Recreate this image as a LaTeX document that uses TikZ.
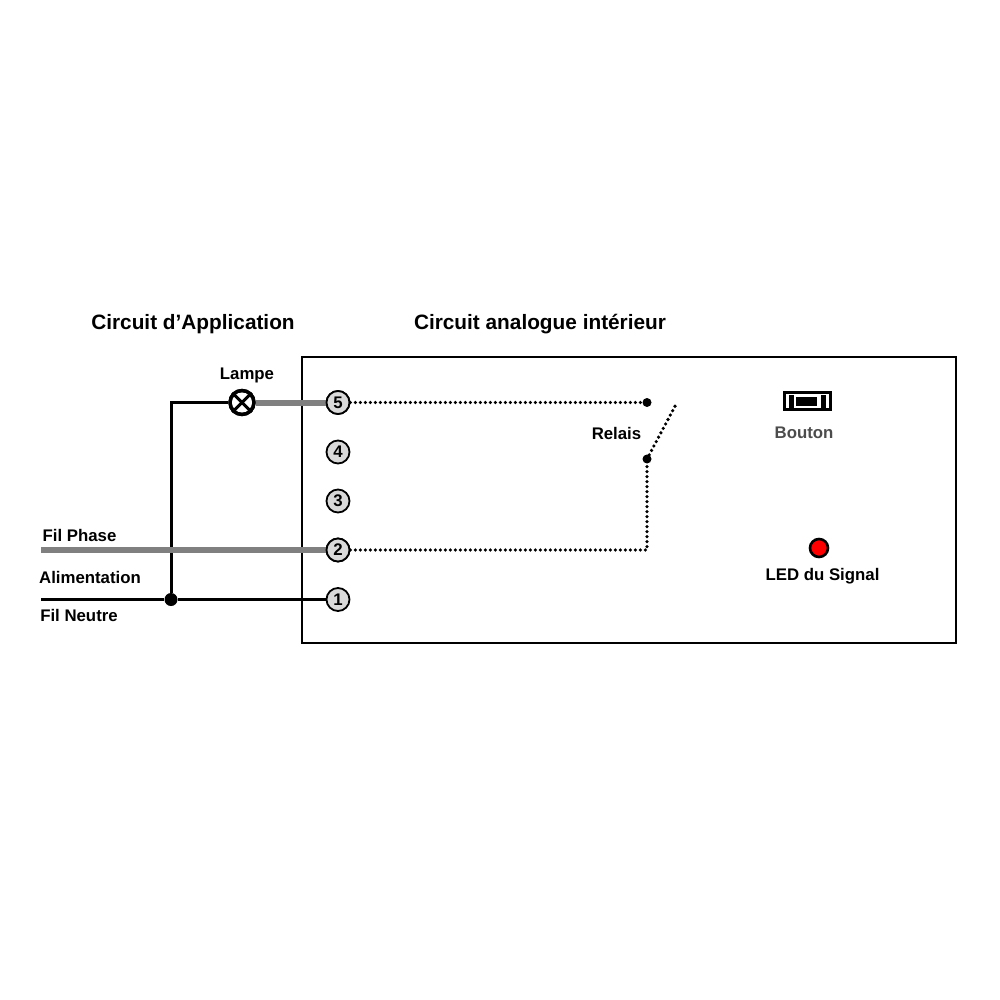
\documentclass[tikz,border=0pt]{standalone}
\usepackage{fontspec}
\setmainfont{Liberation Sans}
\tikzset{
	titre/.style={font=\fontsize{20.8}{24}\selectfont\bfseries},
	etiquette/.style={font=\fontsize{16.8}{19}\selectfont\bfseries},
	borne/.style={circle,draw=black,line width=1.8pt,fill=black!15,minimum size=23pt,inner sep=0pt,font=\fontsize{16.8}{19}\selectfont\bfseries},
	point/.style={circle,fill=black,inner sep=0pt},
	fil/.style={line width=3pt,black},
	phase/.style={line width=6pt,black!50},
	pointille/.style={line width=3.6pt,black,line cap=round,dash pattern=on 0pt off 5pt}
}
\begin{document}
\begin{tikzpicture}[x=1pt,y=-1pt]
	\useasboundingbox (0,0) rectangle (1000,1000);

	% Titles
	\node[titre] (titreapp) at (193,324) {Circuit d’Application};
	\node[titre] (titreana) at (540,324) {Circuit analogue intérieur};

	% Box
	\node[draw=black,line width=2.6pt,minimum width=654pt,minimum height=286pt,inner sep=0pt] (boitier) at (629,500) {};

	% Terminals
	\node[borne] (b5) at (338,402.5) {5};
	\node[borne] (b4) at (338,452) {4};
	\node[borne] (b3) at (338,501) {3};
	\node[borne] (b2) at (338,550) {2};
	\node[borne] (b1) at (338,599.5) {1};

	% Lamp
	\node[circle,draw=black,line width=3.4pt,fill=white,minimum size=24pt,inner sep=0pt] (lampe) at (242,402.5) {};
	\draw[line width=3pt] (lampe.45) -- (lampe.225);
	\draw[line width=3pt] (lampe.135) -- (lampe.315);
	\node[etiquette] (lampetxt) at (247,375) {Lampe};

	% Supply ends and junction
	\coordinate (phasein) at (41,550);
	\coordinate (neutrein) at (41,599.5);
	\coordinate (coude) at (171,402.5);
	\node[point,minimum size=13pt] (jonction) at (171,599.5) {};

	% Black wires
	\draw[fil] (neutrein) -- (jonction) -- (b1);
	\draw[fil] (jonction) -- (coude) -- (lampe);

	% Grey wires
	\draw[phase] (phasein) -- (b2);
	\draw[phase] (lampe) -- (b5);
	\node[borne] at (b2) {2};
	\node[borne] at (b5) {5};
	\node[circle,draw=black,line width=3.4pt,minimum size=24pt,inner sep=0pt] at (lampe) {};

	% Supply labels
	\node[etiquette] (phasetxt) at (79.5,535.5) {Fil Phase};
	\node[etiquette] (alimtxt) at (90,577) {Alimentation};
	\node[etiquette] (neutretxt) at (79,615) {Fil Neutre};

	% Relay
	\node[point,minimum size=9pt] (contacta) at (647,402.5) {};
	\node[point,minimum size=9pt] (contactb) at (647,459) {};
	\coordinate (levier) at (677,402.5);
	\coordinate (coin) at (647,550);
	\draw[pointille] (b5) -- (contacta);
	\draw[pointille] (b2) -- (coin) -- (contactb);
	\draw[pointille] (contactb) -- (levier);
	\node[etiquette] (relaistxt) at (616.5,433) {Relais};

	% Button
	\node[draw=black,line width=3pt,minimum width=46pt,minimum height=17pt,inner sep=0pt] (bouton) at (807.5,401) {};
	\node[fill=black,minimum width=5pt,minimum height=13pt,inner sep=0pt] (boutong) at (791.5,401) {};
	\node[fill=black,minimum width=21pt,minimum height=9pt,inner sep=0pt] (boutonm) at (806.5,401) {};
	\node[fill=black,minimum width=5pt,minimum height=13pt,inner sep=0pt] (boutond) at (823,401) {};
	\node[etiquette,text=black!70] (boutontxt) at (804,433) {Bouton};

	% LED
	\node[circle,draw=black,line width=2.6pt,fill=red,minimum size=18pt,inner sep=0pt] (led) at (819,548) {};
	\node[etiquette] (ledtxt) at (822.5,576) {LED du Signal};
\end{tikzpicture}
\end{document}
